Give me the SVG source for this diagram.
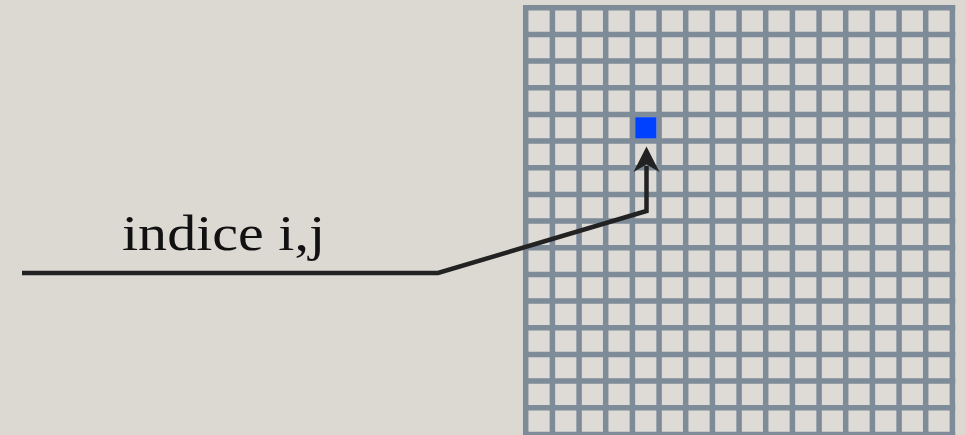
<svg xmlns="http://www.w3.org/2000/svg" width="965" height="435" viewBox="0 0 965 435">
<defs>
<style>
.g line{stroke:#7e8b99;stroke-width:5.5}
.conn{fill:none;stroke:#222;stroke-width:4.5;stroke-linejoin:miter}
.head{fill:#222}
.lbl{font-family:"Liberation Serif",serif;font-size:50px;fill:#111}
</style>
</defs>
<rect width="965" height="435" fill="#dcd9d3"/>
<g id="grid" class="g">
<rect x="525.75" y="7.75" width="426.7" height="440" fill="#dedbd6"/>
<line x1="525.7" y1="5" x2="525.7" y2="435"/>
<line x1="552.4" y1="5" x2="552.4" y2="435"/>
<line x1="579.1" y1="5" x2="579.1" y2="435"/>
<line x1="605.7" y1="5" x2="605.7" y2="435"/>
<line x1="632.4" y1="5" x2="632.4" y2="435"/>
<line x1="659.1" y1="5" x2="659.1" y2="435"/>
<line x1="685.7" y1="5" x2="685.7" y2="435"/>
<line x1="712.4" y1="5" x2="712.4" y2="435"/>
<line x1="739.1" y1="5" x2="739.1" y2="435"/>
<line x1="765.7" y1="5" x2="765.7" y2="435"/>
<line x1="792.4" y1="5" x2="792.4" y2="435"/>
<line x1="819.1" y1="5" x2="819.1" y2="435"/>
<line x1="845.7" y1="5" x2="845.7" y2="435"/>
<line x1="872.4" y1="5" x2="872.4" y2="435"/>
<line x1="899.1" y1="5" x2="899.1" y2="435"/>
<line x1="925.7" y1="5" x2="925.7" y2="435"/>
<line x1="952.4" y1="5" x2="952.4" y2="435"/>
<line x1="523" y1="7.75" x2="955.2" y2="7.75"/>
<line x1="523" y1="34.4" x2="955.2" y2="34.4"/>
<line x1="523" y1="61.1" x2="955.2" y2="61.1"/>
<line x1="523" y1="87.75" x2="955.2" y2="87.75"/>
<line x1="523" y1="114.4" x2="955.2" y2="114.4"/>
<line x1="523" y1="141.1" x2="955.2" y2="141.1"/>
<line x1="523" y1="167.75" x2="955.2" y2="167.75"/>
<line x1="523" y1="194.4" x2="955.2" y2="194.4"/>
<line x1="523" y1="221.1" x2="955.2" y2="221.1"/>
<line x1="523" y1="247.75" x2="955.2" y2="247.75"/>
<line x1="523" y1="274.4" x2="955.2" y2="274.4"/>
<line x1="523" y1="301.1" x2="955.2" y2="301.1"/>
<line x1="523" y1="327.75" x2="955.2" y2="327.75"/>
<line x1="523" y1="354.4" x2="955.2" y2="354.4"/>
<line x1="523" y1="381.1" x2="955.2" y2="381.1"/>
<line x1="523" y1="407.75" x2="955.2" y2="407.75"/>
<line x1="523" y1="434.4" x2="955.2" y2="434.4"/>
</g>
<g id="cell">
<rect x="635.2" y="117.2" width="21.2" height="21.2" fill="#0040ff"/>
</g>
<g id="connectors">
<path class="conn" d="M22,273 L438,273 L646.5,211 L646.5,166"/>
<path class="head" d="M646.5,146.5 L659.5,172 L646.5,164.5 L633.5,172 Z"/>
</g>
<g id="label">
<text class="lbl" x="122" y="250" textLength="203" lengthAdjust="spacingAndGlyphs">indice i,j</text>
</g>
</svg>
